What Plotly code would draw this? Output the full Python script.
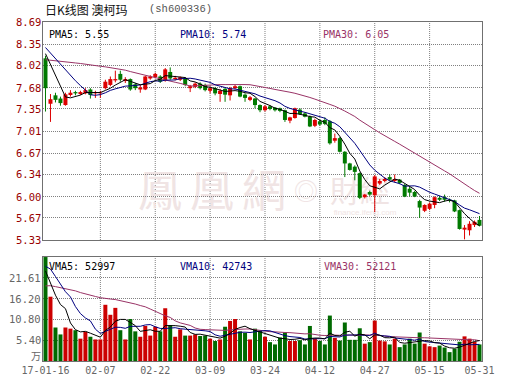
import pandas as pd
import plotly.graph_objects as go

# ---------------- data (88 trading days, 2017-01-16 .. 2017-05-31) ----------------
opens = [8.13, 7.43, 7.56, 7.51, 7.41, 7.565, 7.61, 7.58, 7.59, 7.65,
         7.59, 7.59, 7.67, 7.72, 7.79, 7.89, 7.78, 7.81, 7.73, 7.65,
         7.65, 7.82, 7.84, 7.85, 7.79, 7.92, 7.81, 7.80, 7.82, 7.67,
         7.69, 7.74, 7.72, 7.63, 7.67, 7.58, 7.66, 7.56, 7.67, 7.70,
         7.57, 7.49, 7.51, 7.41, 7.33, 7.39, 7.37, 7.36, 7.33, 7.17,
         7.21, 7.34, 7.28, 7.23, 7.09, 7.16, 7.18, 7.16, 6.86, 6.90,
         6.69, 6.51, 6.46, 6.36, 5.99, 6.07, 6.02, 6.20, 6.24, 6.30,
         6.24, 6.26, 6.18, 6.12, 6.07, 5.93, 5.78, 5.81, 5.87, 5.98,
         5.99, 5.95, 5.94, 5.79, 5.49, 5.48, 5.56, 5.64]
highs = [8.17, 7.58, 7.60, 7.54, 7.60, 7.64, 7.63, 7.63, 7.67, 7.67,
         7.63, 7.63, 7.80, 7.85, 7.94, 7.94, 7.84, 7.82, 7.75, 7.72,
         7.86, 7.87, 7.91, 7.87, 7.98, 7.99, 7.86, 7.85, 7.84, 7.72,
         7.76, 7.76, 7.74, 7.70, 7.69, 7.66, 7.68, 7.69, 7.72, 7.71,
         7.59, 7.55, 7.52, 7.42, 7.41, 7.41, 7.38, 7.37, 7.34, 7.23,
         7.37, 7.36, 7.30, 7.25, 7.20, 7.19, 7.22, 7.18, 6.97, 6.92,
         6.70, 6.52, 6.48, 6.37, 6.04, 6.09, 6.33, 6.27, 6.30, 6.34,
         6.34, 6.27, 6.19, 6.15, 6.09, 5.95, 5.88, 5.91, 6.00, 6.01,
         6.03, 5.97, 5.95, 5.80, 5.56, 5.62, 5.63, 5.70]
lows = [7.31, 7.15, 7.45, 7.40, 7.40, 7.54, 7.56, 7.565, 7.575, 7.51,
        7.52, 7.52, 7.65, 7.70, 7.76, 7.77, 7.75, 7.63, 7.64, 7.60,
        7.64, 7.80, 7.82, 7.75, 7.77, 7.80, 7.79, 7.78, 7.70, 7.61,
        7.67, 7.65, 7.62, 7.59, 7.56, 7.46, 7.46, 7.48, 7.65, 7.53,
        7.46, 7.47, 7.36, 7.30, 7.31, 7.33, 7.31, 7.30, 7.15, 7.13,
        7.20, 7.26, 7.22, 7.07, 7.07, 7.09, 7.10, 6.80, 6.83, 6.68,
        6.30, 6.40, 6.25, 5.96, 5.97, 6.01, 5.76, 6.18, 6.22, 6.24,
        6.22, 6.19, 5.99, 6.00, 5.99, 5.67, 5.76, 5.79, 5.82, 5.93,
        5.92, 5.91, 5.76, 5.49, 5.34, 5.40, 5.53, 5.54]
closes = [7.67, 7.50, 7.49, 7.44, 7.575, 7.60, 7.59, 7.61, 7.64, 7.565,
          7.60, 7.60, 7.77, 7.81, 7.81, 7.80, 7.81, 7.65, 7.67, 7.68,
          7.85, 7.85, 7.89, 7.77, 7.96, 7.82, 7.83, 7.84, 7.72, 7.70,
          7.74, 7.67, 7.64, 7.67, 7.59, 7.63, 7.57, 7.67, 7.70, 7.54,
          7.52, 7.53, 7.41, 7.33, 7.39, 7.35, 7.33, 7.32, 7.18, 7.22,
          7.36, 7.27, 7.23, 7.08, 7.18, 7.11, 7.12, 6.82, 6.90, 6.69,
          6.51, 6.41, 6.38, 5.98, 6.03, 6.03, 6.31, 6.24, 6.27, 6.26,
          6.27, 6.21, 6.00, 6.06, 6.00, 5.83, 5.87, 5.89, 5.99, 5.95,
          5.95, 5.94, 5.77, 5.50, 5.52, 5.58, 5.61, 5.55]
# volume in 万 (10k lots)
volumes = [27.0, 16.7, 8.7, 6.9, 8.7, 8.4, 8.0, 5.8, 7.6, 6.3,
           5.6, 5.6, 14.6, 12.0, 13.8, 8.0, 5.6, 10.9, 7.7, 6.3,
           9.1, 6.6, 8.9, 7.7, 13.7, 9.3, 6.3, 8.2, 6.6, 6.6,
           6.9, 6.5, 6.6, 5.8, 5.2, 5.6, 8.9, 10.4, 10.9, 7.7,
           7.3, 5.6, 8.4, 7.9, 6.3, 4.9, 4.3, 6.1, 7.4, 5.2,
           5.2, 5.4, 4.3, 9.1, 5.8, 5.2, 4.3, 11.8, 6.0, 5.3,
           10.0, 5.5, 5.5, 8.5, 4.5, 4.9, 10.5, 5.3, 5.1, 4.3,
           5.8, 3.6, 4.3, 5.8, 4.5, 7.4, 4.5, 3.8, 3.6, 4.0,
           3.5, 2.3, 3.2, 5.0, 6.4, 5.8, 5.0, 4.3]
# closes / volumes of the 29 sessions before the window (implied by the MA lines at the left edge)
prior_closes = [7.70, 7.75, 7.78, 7.80, 7.82, 7.85, 7.86, 7.88, 7.90, 7.93, 7.97,
                8.05, 8.12, 8.18, 8.22, 8.25, 8.28, 8.30, 8.32, 8.34,
                8.36, 8.40, 8.38, 8.42, 8.40, 8.36, 8.35, 8.33, 8.30]
prior_volumes = [15, 16, 14, 18, 17, 16, 19, 16,
                 16, 18, 15, 17, 20, 18, 16, 19, 17, 15, 18, 19,
                 24, 28, 27, 28, 22, 33, 24, 19, 14]

tick_idx = [0, 11, 22, 33, 44, 55, 66, 77, 87]
tick_labels = ["17-01-16", "02-07", "02-22", "03-09", "03-24", "04-12", "04-27", "05-15", "05-31"]
grid_idx = [11, 22, 33, 44, 55, 66, 77]
price_ticks = [5.33, 5.67, 6.00, 6.34, 6.67, 7.01, 7.35, 7.68, 8.02, 8.35, 8.69]
vol_ticks = [5.40, 10.80, 16.20, 21.61]
vol_max = 27.01

title_text = "日K线图 澳柯玛"
code_text = "(sh600336)"
pma_labels = ["PMA5: 5.55", "PMA10: 5.74", "PMA30: 6.05"]
vma_labels = ["VMA5: 52997", "VMA10: 42743", "VMA30: 52121"]

# ---------------- styling ----------------
RED = "#dd0000"
GREEN = "#007a00"
VRED = "#cc0000"
VGREEN = "#006a00"
MA_COLORS = ["#000000", "#000080", "#993366"]
GRID = "#808080"
FRAME = "#707070"
MONO = "DejaVu Sans Mono"
CJK = "Noto Sans CJK SC"

W, H = 530, 391
L, T = 43, 22
R = W - 482
B = H - 361
PW, PH = W - L - R, H - T - B


def px_x(px):                # page pixel -> paper coordinate
    return (px - L) / PW


def px_y(py):
    return (H - B - py) / PH


price_dom = [px_y(240), 1.0]
vol_dom = [0.0, px_y(257)]

n = len(closes)
idx = list(range(n))


def moving_avg(prior, vals, w):
    s = pd.Series(list(prior) + list(vals), dtype=float).rolling(w).mean()
    return s.iloc[len(prior):].tolist()


pma = [moving_avg(prior_closes, closes, w) for w in (5, 10, 30)]
vma = [moving_avg(prior_volumes, volumes, w) for w in (5, 10, 30)]
up = [c >= o for o, c in zip(opens, closes)]
body_base = [min(o, c) for o, c in zip(opens, closes)]
body_len = [max(abs(c - o), 0.012) for o, c in zip(opens, closes)]
body_col = [RED if u else GREEN for u in up]
vcolors = [VRED if u else VGREEN for u in up]

fig = go.Figure()

# candle bodies
fig.add_trace(go.Bar(x=idx, y=body_len, base=body_base, width=0.8,
                     marker=dict(color=body_col, line=dict(width=0)),
                     xaxis="x", yaxis="y", hoverinfo="skip", showlegend=False))
# candle wicks
for flag, col in ((True, RED), (False, GREEN)):
    wx, wy = [], []
    for i in idx:
        if up[i] == flag:
            wx += [i, i, None]
            wy += [lows[i], highs[i], None]
    fig.add_trace(go.Scatter(x=wx, y=wy, mode="lines", line=dict(color=col, width=1),
                             xaxis="x", yaxis="y", hoverinfo="skip", showlegend=False))

for series, col in zip(pma[::-1], MA_COLORS[::-1]):
    fig.add_trace(go.Scatter(x=idx, y=series, mode="lines", line=dict(color=col, width=1),
                             xaxis="x", yaxis="y", hoverinfo="skip", showlegend=False))

fig.add_trace(go.Bar(x=idx, y=volumes, marker=dict(color=vcolors, line=dict(width=0)),
                     width=0.8, xaxis="x2", yaxis="y2", hoverinfo="skip", showlegend=False))

for series, col in zip(vma[::-1], MA_COLORS[::-1]):
    fig.add_trace(go.Scatter(x=idx, y=series, mode="lines", line=dict(color=col, width=1),
                             xaxis="x2", yaxis="y2", hoverinfo="skip", showlegend=False))

shapes = []
# vertical dotted grid lines in both panels
for g in grid_idx:
    for xr, dom in (("x", price_dom), ("x2", vol_dom)):
        shapes.append(dict(type="line", xref=xr, yref="paper", x0=g, x1=g, y0=dom[0], y1=dom[1],
                           line=dict(color=GRID, width=1, dash="1px,1px"), layer="below"))

# watermark (drawn under the data)
wm = [("鳳", 160, 195, 44), ("凰", 212, 195, 44), ("網", 264, 195, 44),
      ("◎", 306, 193, 24), ("財經", 360, 194, 30), ("finance.ifeng.com", 365, 211, 8)]
for txt, cx, cy, sz in wm:
    fam = "Liberation Sans" if txt.isascii() else "Noto Sans CJK TC"
    shapes.append(dict(type="rect", xref="paper", yref="paper",
                       x0=px_x(cx - 40), x1=px_x(cx + 40), y0=px_y(cy + 25), y1=px_y(cy - 25),
                       line=dict(width=0), fillcolor="rgba(0,0,0,0)", layer="below",
                       label=dict(text=txt, textposition="middle center",
                                  font=dict(family=fam, size=sz, color="#f0e4e4"))))

annotations = [
    dict(text=title_text, x=px_x(43), y=px_y(9), xref="paper", yref="paper",
         xanchor="left", yanchor="middle", showarrow=False,
         font=dict(family=CJK, size=12, color="#111111")),
    dict(text=code_text, x=px_x(147), y=px_y(9), xref="paper", yref="paper",
         xanchor="left", yanchor="middle", showarrow=False,
         font=dict(family="Liberation Mono", size=10.5, color="#555555")),
    dict(text="万", x=px_x(43), y=px_y(355), xref="paper", yref="paper",
         xanchor="right", yanchor="middle", showarrow=False,
         font=dict(family=CJK, size=10, color="#666666")),
]
# value labels of the two y axes
for v in price_ticks:
    annotations.append(dict(text=f"{v:.2f}", x=px_x(43), y=v, xref="paper", yref="y",
                            xanchor="right", yanchor="middle", showarrow=False,
                            font=dict(family=MONO, size=10.5, color="#990000")))
for v in vol_ticks:
    annotations.append(dict(text=f"{v:.2f}", x=px_x(43), y=v, xref="paper", yref="y2",
                            xanchor="right", yanchor="middle", showarrow=False,
                            font=dict(family=MONO, size=10.5, color="#666666")))
for lbl, xpx, col in zip(pma_labels, (47, 178, 321), MA_COLORS):
    annotations.append(dict(text=lbl, x=px_x(xpx), y=px_y(34), xref="paper", yref="paper",
                            xanchor="left", yanchor="middle", showarrow=False,
                            font=dict(family=MONO, size=10, color=col)))
for lbl, xpx, col in zip(vma_labels, (47, 178, 322), MA_COLORS):
    annotations.append(dict(text=lbl, x=px_x(xpx), y=px_y(266), xref="paper", yref="paper",
                            xanchor="left", yanchor="middle", showarrow=False,
                            font=dict(family=MONO, size=10, color=col)))

axis_common = dict(showline=True, mirror=True, linecolor=FRAME, linewidth=1, zeroline=False,
                   ticks="", fixedrange=True)

fig.update_layout(
    width=W, height=H, margin=dict(l=L, r=R, t=T, b=B, pad=0),
    paper_bgcolor="white", plot_bgcolor="rgba(0,0,0,0)",
    showlegend=False, hovermode=False, barmode="overlay",
    shapes=shapes, annotations=annotations,
    xaxis=dict(domain=[0, 1], anchor="y", range=[-0.5, n - 0.5], showticklabels=False,
               showgrid=False, **axis_common),
    yaxis=dict(domain=price_dom, anchor="x", range=[price_ticks[0], price_ticks[-1]],
               tickvals=price_ticks, showticklabels=False,
               showgrid=True, gridcolor=GRID, griddash="1px,1px", gridwidth=1, **axis_common),
    xaxis2=dict(domain=[0, 1], anchor="y2", range=[-0.5, n - 0.5], tickvals=tick_idx,
                ticktext=tick_labels, showgrid=False,
                tickfont=dict(family=MONO, size=10, color="#666666"), **axis_common),
    yaxis2=dict(domain=vol_dom, anchor="x2", range=[0, vol_max], tickvals=vol_ticks,
                showticklabels=False, showgrid=True, gridcolor=GRID,
                griddash="1px,1px", gridwidth=1, **axis_common),
)

# the page is photographed at 530x391: drop the browser's default 8px body margin
fig.write_html("out.html", config={"displayModeBar": False, "staticPlot": True},
               post_script="document.body.style.margin='0px';")
